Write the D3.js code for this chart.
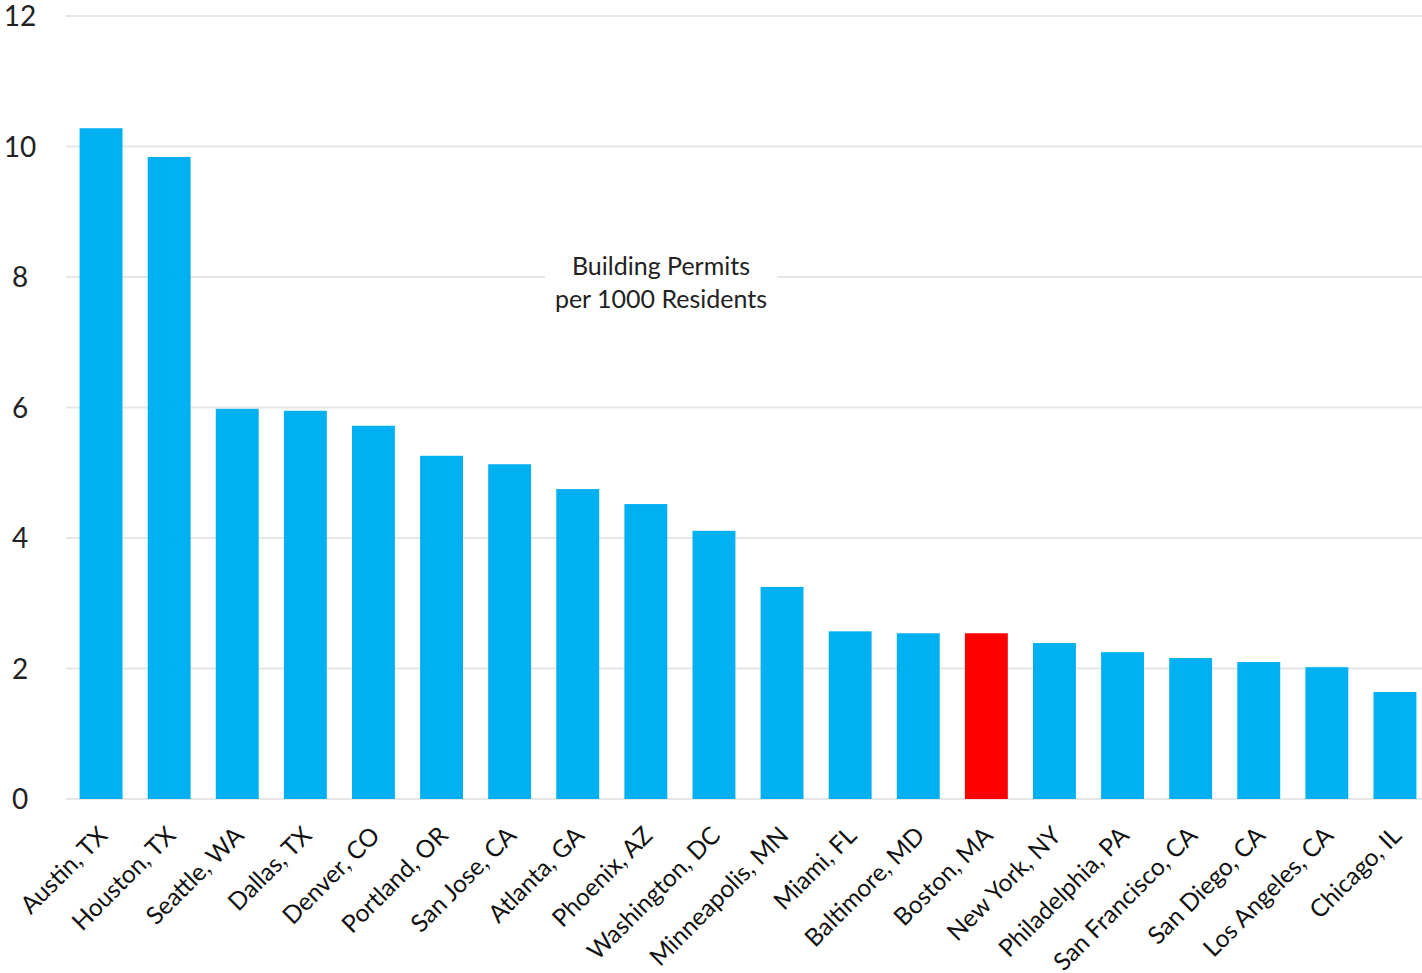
<!DOCTYPE html>
<html><head><meta charset="utf-8">
<script src="https://cdn.jsdelivr.net/npm/d3@7"></script>
<style>body{margin:0;background:#fff}svg{display:block}text{font-family:Lato,"Open Sans",sans-serif}</style>
</head><body>
<svg id="c" width="1422" height="973"></svg>
<script>
const cities = ["Austin, TX","Houston, TX","Seattle, WA","Dallas, TX","Denver, CO","Portland, OR","San Jose, CA","Atlanta, GA","Phoenix, AZ","Washington, DC","Minneapolis, MN","Miami, FL","Baltimore, MD","Boston, MA","New York, NY","Philadelphia, PA","San Francisco, CA","San Diego, CA","Los Angeles, CA","Chicago, IL"];
const permits = [10.28,9.84,5.98,5.95,5.72,5.26,5.13,4.75,4.52,4.11,3.25,2.57,2.54,2.54,2.39,2.25,2.16,2.10,2.02,1.64];
const highlight = "Boston, MA";
const yTicks = [0,2,4,6,8,10,12];
const titleLines = ["Building Permits","per 1000 Residents"];

const svg = d3.select("#c");
const x = d3.scaleBand().domain(cities).range([67,1429]).paddingInner(0.37).paddingOuter(0.185);
const y = d3.scaleLinear().domain([0,12]).range([799,16]);

svg.append("g").selectAll("line").data(yTicks).join("line")
  .attr("x1",66).attr("x2",1422).attr("y1",d=>y(d)).attr("y2",d=>y(d))
  .attr("stroke","#e6e6e6").attr("stroke-width",2);

svg.append("g").selectAll("text").data(yTicks).join("text")
  .attr("x",20).attr("y",d=>y(d)+10).attr("text-anchor","middle")
  .attr("font-size",28).attr("fill","#222").text(d=>d);

svg.append("g").selectAll("rect").data(cities).join("rect")
  .attr("x",d=>x(d)).attr("width",x.bandwidth())
  .attr("y",(d,i)=>y(permits[i])).attr("height",(d,i)=>y(0)-y(permits[i]))
  .attr("fill",d=>d===highlight?"#FF0000":"#00B0F0");

svg.append("g").selectAll("text").data(cities).join("text")
  .attr("text-anchor","end").attr("font-size",24.5).attr("fill","#111")
  .attr("transform",d=>`translate(${x(d)+x.bandwidth()/2+8},${837}) rotate(-45)`)
  .text(d=>d);

const tg = svg.append("g");
tg.append("rect").attr("x",545).attr("y",250).attr("width",232).attr("height",62).attr("fill","#fff");
tg.selectAll("text").data(titleLines).join("text")
  .attr("x",661).attr("y",(d,i)=>275+i*33).attr("text-anchor","middle")
  .attr("font-size",25).attr("fill","#222").text(d=>d);
</script>
</body></html>
